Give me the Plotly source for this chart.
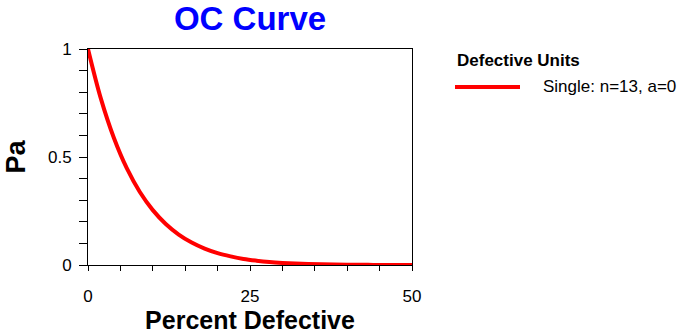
import plotly.graph_objects as go

# Operating characteristic curve, single sampling plan n=13, a=0
percent_defective = [0, 2, 4, 6, 8, 10, 12, 14, 16, 18, 20, 22, 24, 26, 28,
                     30, 32, 34, 36, 38, 40, 42, 44, 46, 48, 50]
prob_accept = [1.0, 0.769, 0.588, 0.447, 0.338, 0.254, 0.190, 0.141, 0.104,
               0.076, 0.055, 0.040, 0.028, 0.020, 0.014, 0.0097, 0.0066,
               0.0045, 0.0030, 0.0020, 0.0013, 0.0008, 0.0005, 0.0003,
               0.0002, 0.0001]
series_name = "Single: n=13, a=0"
legend_title = "Defective Units"

W, H = 685, 334
L, R, T, B = 88, 273, 49, 69
PW, PH = W - L - R, H - T - B


def px_x(px):
    return (px - L) / PW


def px_y(py):
    return (H - B - py) / PH


fig = go.Figure()
fig.add_trace(go.Scatter(
    x=percent_defective, y=prob_accept, mode="lines", name=series_name,
    line=dict(color="#ff0000", width=4, shape="spline"),
    showlegend=False,
))

font_family = "Liberation Sans, Arial, sans-serif"

fig.update_layout(
    width=W, height=H,
    margin=dict(l=L, r=R, t=T, b=B, autoexpand=False),
    paper_bgcolor="white", plot_bgcolor="white",
    font=dict(family=font_family, color="black"),
    title=dict(text="<b>OC Curve</b>", x=px_x(250), xref="paper", xanchor="center",
               y=1 - 18 / H, yref="container", yanchor="middle",
               font=dict(size=33, color="#0000ff", family=font_family)),
    xaxis=dict(
        range=[0, 50], tickvals=[0, 25, 50], ticktext=["0", "25", "50"],
        ticks="outside", ticklen=5, tickcolor="black", tickwidth=1,
        minor=dict(dtick=5, ticks="outside", ticklen=5, tickcolor="black", tickwidth=1),
        showline=True, linecolor="black", linewidth=1, mirror=True,
        showgrid=False, zeroline=False, automargin=False,
        tickfont=dict(size=17), ticklabelstandoff=11,
        title=dict(text="<b>Percent Defective</b>", font=dict(size=25), standoff=5),
    ),
    yaxis=dict(
        range=[0, 1], tickvals=[0, 0.5, 1], ticktext=["0", "0.5", "1"],
        ticks="outside", ticklen=8, tickcolor="black", tickwidth=1,
        minor=dict(dtick=0.1, ticks="outside", ticklen=8, tickcolor="black", tickwidth=1),
        showline=True, linecolor="black", linewidth=1, mirror=True,
        showgrid=False, zeroline=False, automargin=False,
        tickfont=dict(size=17), ticklabelstandoff=4,
        title=dict(text="<b>Pa</b>", font=dict(size=27), standoff=14),
    ),
)

# Legend block drawn beside the plot
fig.add_annotation(
    x=px_x(455), y=px_y(60), xref="paper", yref="paper",
    xanchor="left", yanchor="middle", showarrow=False,
    text="<b>" + legend_title + "</b>", font=dict(size=17),
)
fig.add_shape(
    type="line", xref="paper", yref="paper",
    x0=px_x(455), x1=px_x(520), y0=px_y(87), y1=px_y(87),
    line=dict(color="#ff0000", width=4),
)
fig.add_annotation(
    x=px_x(541), y=px_y(86), xref="paper", yref="paper",
    xanchor="left", yanchor="middle", showarrow=False,
    text=series_name, font=dict(size=17),
)

fig.write_html("out.html")
